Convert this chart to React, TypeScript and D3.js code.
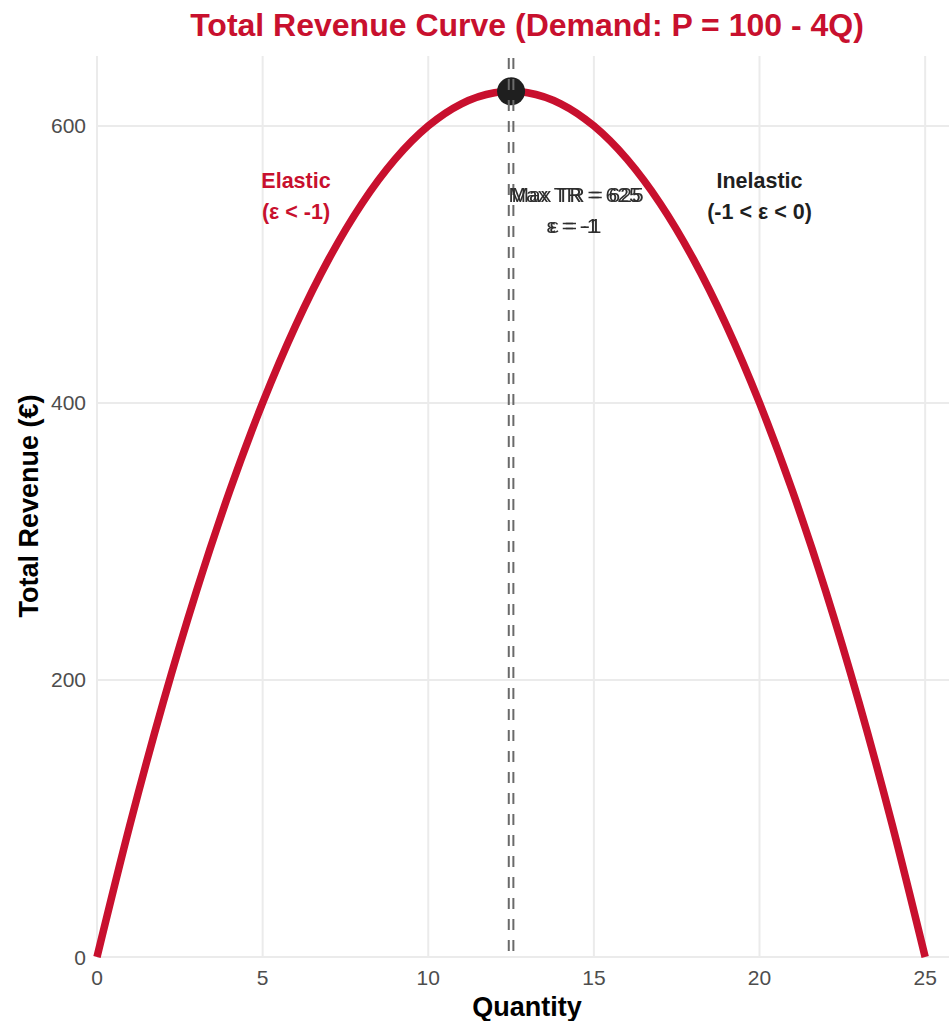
import React from "react";
import * as d3 from "d3";

// Total revenue TR = P·Q along the demand curve P = 100 - 4Q
const quantity = [0, 1, 2, 3, 4, 5, 6, 7, 8, 9, 10, 11, 12, 12.5, 13, 14, 15, 16, 17, 18, 19, 20, 21, 22, 23, 24, 25];
const revenue = [0, 96, 184, 264, 336, 400, 456, 504, 544, 576, 600, 616, 624, 625, 624, 616, 600, 576, 544, 504, 456, 400, 336, 264, 184, 96, 0];

const xTicks = [0, 5, 10, 15, 20, 25];
const yTicks = [0, 200, 400, 600];

const maxQ = 12.5;
const maxTR = 625;

const W = 949;
const H = 1021;
const RED = "#C8102E";
const FONT = "'Liberation Sans', Arial, Helvetica, sans-serif";

export default function App() {
  const left = 97;
  const right = 949;
  const top = 56;
  const bottom = 957;

  const x = d3.scaleLinear().domain([0, 25.72]).range([left, right]);
  const y = d3.scaleLinear().domain([0, 650.5]).range([bottom, top]);

  const pts = quantity.map((q, i) => [q, revenue[i]] as [number, number]);
  const line = d3
    .line<[number, number]>()
    .x((d) => x(d[0]))
    .y((d) => y(d[1]))
    .curve(d3.curveMonotoneX);

  const tx = x(maxQ) + 65;

  return (
    <svg width={W} height={H} style={{ position: "absolute", left: 0, top: 0, background: "#fff" }} fontFamily={FONT}>
      <defs>
        {/* doubled, slightly offset print for the peak annotation */}
        <filter id="ghost" x="-10%" y="-20%" width="120%" height="140%">
          <feOffset in="SourceGraphic" dx={3} dy={0} result="shifted" />
          <feMerge>
            <feMergeNode in="shifted" />
            <feMergeNode in="SourceGraphic" />
          </feMerge>
        </filter>
      </defs>

      {/* grid */}
      {xTicks.map((t) => (
        <line key={"gx" + t} x1={x(t)} x2={x(t)} y1={top} y2={bottom} stroke="#ebebeb" strokeWidth={2} />
      ))}
      {yTicks.map((t) => (
        <line key={"gy" + t} x1={left} x2={right} y1={y(t)} y2={y(t)} stroke="#ebebeb" strokeWidth={2} />
      ))}

      {/* revenue curve */}
      <path d={line(pts) || ""} fill="none" stroke={RED} strokeWidth={7.5} />

      {/* maximum point */}
      <circle cx={x(maxQ)} cy={y(maxTR)} r={14} fill="#1f1f1f" />

      {/* unit-elastic reference line */}
      {[-2.3, 2.3].map((o) => (
        <line
          key={"v" + o}
          x1={x(maxQ) + o}
          x2={x(maxQ) + o}
          y1={top}
          y2={bottom}
          stroke="#6a6a6a"
          strokeWidth={2}
          strokeDasharray="11 10"
          strokeDashoffset={-2}
        />
      ))}

      {/* annotation at the maximum */}
      <g fill="#2e2e2e" fontSize={21} textAnchor="middle" filter="url(#ghost)">
        <text x={tx - 1.5} y={202}>Max TR = 625</text>
        <text x={tx - 3.5} y={233}>ε = -1</text>
      </g>

      {/* region labels */}
      <g fontSize={21.5} fontWeight="bold" textAnchor="middle">
        <text x={296} y={188} fill={RED}>Elastic</text>
        <text x={296} y={219} fill={RED}>(ε &lt; -1)</text>
        <text x={x(20)} y={188} fill="#1f1f1f">Inelastic</text>
        <text x={x(20)} y={219} fill="#1f1f1f">(-1 &lt; ε &lt; 0)</text>
      </g>

      {/* axis tick labels */}
      {xTicks.map((t) => (
        <text key={"xl" + t} x={x(t)} y={985} textAnchor="middle" fontSize={21} fill="#4d4d4d">
          {t}
        </text>
      ))}
      {yTicks.map((t) => (
        <text key={"yl" + t} x={86} y={y(t) + 7.5} textAnchor="end" fontSize={21} fill="#4d4d4d">
          {t}
        </text>
      ))}

      {/* axis titles */}
      <text x={527} y={1016} textAnchor="middle" fontSize={27} fontWeight="bold" fill="#000">
        Quantity
      </text>
      <text
        transform={`translate(38, ${506}) rotate(-90)`}
        textAnchor="middle"
        fontSize={27}
        fontWeight="bold"
        fill="#000"
      >
        Total Revenue (€)
      </text>

      {/* title */}
      <text x={527} y={36} textAnchor="middle" fontSize={32} fontWeight="bold" fill={RED}>
        Total Revenue Curve (Demand: P = 100 - 4Q)
      </text>
    </svg>
  );
}
